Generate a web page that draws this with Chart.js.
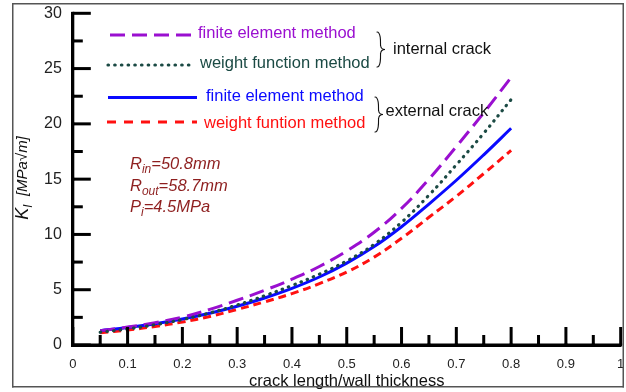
<!DOCTYPE html>
<html><head><meta charset="utf-8">
<script src="https://cdn.jsdelivr.net/npm/chart.js@4.4.0/dist/chart.umd.min.js"></script>
<style>html,body{margin:0;padding:0;background:#fff;overflow:hidden}canvas{display:block}</style>
</head><body>
<canvas id="c" width="626" height="392"></canvas>
<script>
// ---- data ----
const crackRatio   = [0.05,0.10,0.15,0.20,0.25,0.30,0.35,0.40,0.45,0.50,0.55,0.60,0.65,0.70,0.75,0.80];
const internalFEM  = [1.30,1.62,2.02,2.52,3.22,4.05,4.95,5.95,7.10,8.50,10.2,12.35,15.0,17.95,21.0,24.2];
const internalWF   = [1.15,1.45,1.83,2.30,2.90,3.62,4.45,5.38,6.40,7.60,9.10,11.1,13.55,16.3,19.15,22.2];
const externalFEM  = [1.30,1.58,1.92,2.35,2.87,3.50,4.25,5.12,6.15,7.40,8.90,10.7,12.75,14.9,17.2,19.6];
const externalWF   = [1.10,1.35,1.68,2.08,2.58,3.22,3.90,4.65,5.55,6.60,7.95,9.65,11.55,13.45,15.5,17.6];
const seriesLabels = ['finite element method','weight function method','finite element method','weight funtion method'];
const groupLabels  = ['internal crack','external crack'];
const xTickLabels  = ['0','0.1','0.2','0.3','0.4','0.5','0.6','0.7','0.8','0.9','1'];
const yTickLabels  = ['0','5','10','15','20','25','30'];
const xTitle = 'crack length/wall thickness';

const FONT = '"Liberation Sans", Arial, Helvetica, sans-serif';
const C_PURPLE = '#9a0fd0', C_GREEN = '#1b4a44', C_BLUE = '#0a0aff', C_RED = '#ff1010', C_ANN = '#8e1f1f';
const C_AXIS = '#000000';

const pts = arr => crackRatio.map((x,i)=>({x, y: arr[i]}));

const bgPlugin = {
  id:'bg',
  beforeDraw(chart){ const c=chart.ctx; c.save(); c.fillStyle='#fff'; c.fillRect(0,0,chart.width,chart.height); c.restore(); }
};

function brace(c, x, y0, y1, w){
  const ym = (y0+y1)/2;
  c.beginPath();
  c.moveTo(x, y0);
  c.bezierCurveTo(x+w*0.6, y0, x+w*0.4, ym-2, x+w*0.45, ym-4);
  c.quadraticCurveTo(x+w*0.5, ym, x+w, ym);
  c.quadraticCurveTo(x+w*0.5, ym, x+w*0.45, ym+4);
  c.bezierCurveTo(x+w*0.4, ym+2, x+w*0.6, y1, x, y1);
  c.stroke();
}

const overlayPlugin = {
  id:'overlay',
  afterDraw(chart){
    const c = chart.ctx, xs = chart.scales.x, ys = chart.scales.y;
    const left = xs.getPixelForValue(0);
    const bottom = ys.getPixelForValue(0);
    c.save();
    c.setLineDash([]);
    c.fillStyle = C_AXIS;
    // axis lines drawn piecewise between consecutive ticks, plus inner ticks
    const xp = xs.ticks.map(t=>xs.getPixelForValue(t.value));
    const yp = ys.ticks.map(t=>ys.getPixelForValue(t.value));
    for (let i=0;i<xp.length-1;i++) c.fillRect(xp[i]-1.5, bottom-1.5, xp[i+1]-xp[i]+3, 3);
    for (let i=0;i<yp.length-1;i++) c.fillRect(left-1.5, yp[i+1]-1.5, 3, yp[i]-yp[i+1]+3);
    xp.forEach((p,i)=>{ const L = (i%2===0)?18:10; c.fillRect(p-1.5, bottom-L, 3, L); });
    yp.forEach((p,i)=>{ const L = (i%2===0)?18:10; c.fillRect(left, p-1.5, L, 3); });
    // legend lines
    const leg = [
      {y:35, x0:110, x1:193, col:C_PURPLE, dash:[15,7], cap:'butt', w:3, tx:198, ty:38},
      {y:65, x0:108, x1:195, col:C_GREEN, dash:[0.5,6.2], cap:'round', w:3.2, tx:200, ty:68},
      {y:97.5, x0:108, x1:197, col:C_BLUE, dash:[], cap:'butt', w:3, tx:206, ty:101},
      {y:122, x0:107, x1:197, col:C_RED, dash:[9,8], cap:'butt', w:3, tx:204, ty:127.5}
    ];
    leg.forEach((l,i)=>{
      c.strokeStyle=l.col; c.lineWidth=l.w; c.lineCap=l.cap; c.setLineDash(l.dash);
      c.beginPath(); c.moveTo(l.x0,l.y); c.lineTo(l.x1,l.y); c.stroke();
      c.setLineDash([]);
      c.fillStyle=l.col; c.font='16.5px '+FONT; c.textBaseline='alphabetic'; c.textAlign='left';
      c.fillText(seriesLabels[i], l.tx, l.ty);
    });
    // braces
    c.strokeStyle='#111'; c.lineWidth=1.1; c.lineCap='round';
    brace(c, 377, 32, 67, 8);
    brace(c, 375, 97, 132, 8);
    c.fillStyle='#111'; c.font='16.5px '+FONT;
    c.fillText(groupLabels[0], 393, 53.5);
    c.fillText(groupLabels[1], 385.5, 116);
    // annotations
    const ann = [
      {y:168.5, main:'R', sub:'in', rest:'=50.8mm'},
      {y:191, main:'R', sub:'out', rest:'=58.7mm'},
      {y:212, main:'P', sub:'i', rest:'=4.5MPa'}
    ];
    c.fillStyle=C_ANN;
    ann.forEach(a=>{
      let x = 130;
      c.font='italic 16.5px '+FONT; c.fillText(a.main, x, a.y); x += c.measureText(a.main).width;
      c.font='italic 12px '+FONT; c.fillText(a.sub, x, a.y+4); x += c.measureText(a.sub).width;
      c.font='italic 16.5px '+FONT; c.fillText(a.rest, x, a.y);
    });
    // y title (rotated)
    c.fillStyle='#111';
    c.translate(28, 178);
    c.rotate(-Math.PI/2);
    c.textBaseline='alphabetic';
    const parts = [
      {t:'K', f:'italic 18px '+FONT, dy:0},
      {t:'I', f:'italic 12px '+FONT, dy:4},
      {t:'  [MPa\u221Am]', f:'italic 15px '+FONT, dy:-1}
    ];
    let tot=0; parts.forEach(p=>{ c.font=p.f; p.w=c.measureText(p.t).width; tot+=p.w; });
    let x=-tot/2;
    parts.forEach(p=>{ c.font=p.f; c.fillText(p.t, x, p.dy); x+=p.w; });
    c.setTransform(1,0,0,1,0,0);
    // outer frame
    c.fillStyle='#555';
    c.fillRect(12, 3, 612, 1.5);
    c.fillRect(12, 386, 612, 1.5);
    c.fillRect(12, 3, 1.5, 384.5);
    c.fillRect(622.5, 3, 1.5, 384.5);
    c.restore();
  }
};

new Chart(document.getElementById('c'), {
  type:'line',
  data:{ datasets:[
    {label:seriesLabels[1]+' (internal)', data:pts(internalWF), borderColor:C_GREEN, borderWidth:3.2, borderDash:[0.5,6.2], borderCapStyle:'round', order:0},
    {label:seriesLabels[0]+' (internal)', data:pts(internalFEM), borderColor:C_PURPLE, borderWidth:3, borderDash:[15,7], order:1},
    {label:seriesLabels[2]+' (external)', data:pts(externalFEM), borderColor:C_BLUE, borderWidth:3, order:2},
    {label:seriesLabels[3]+' (external)', data:pts(externalWF), borderColor:C_RED, borderWidth:3, borderDash:[8,5], order:3}
  ]},
  options:{
    responsive:false, animation:false, devicePixelRatio:1,
    layout:{padding:{left:0, top:13.3, right:5.3, bottom:0}},
    elements:{ point:{radius:0}, line:{tension:0.4, fill:false} },
    plugins:{ legend:{display:false}, tooltip:{enabled:false} },
    scales:{
      x:{ type:'linear', min:0, max:1,
        grid:{display:false, drawTicks:false},
        border:{display:true, color:C_AXIS, width:3},
        ticks:{ stepSize:0.05, autoSkip:false, maxRotation:0, padding:12, color:'#222',
          font:{family:FONT, size:13},
          callback:(v,i)=> i%2===0 ? xTickLabels[i/2] : '' },
        title:{display:true, text:xTitle, color:'#111', font:{family:FONT, size:16.5}, padding:{top:0,bottom:1}},
        afterFit(s){ s.height = 47; s.paddingLeft = 0; s.paddingRight = 0; }
      },
      y:{ type:'linear', min:0, max:30,
        grid:{display:false, drawTicks:false},
        border:{display:true, color:C_AXIS, width:3},
        ticks:{ stepSize:2.5, autoSkip:false, padding:11, color:'#222',
          font:{family:FONT, size:16},
          callback:(v,i)=> i%2===0 ? yTickLabels[i/2] : '' },
        afterFit(s){ s.width = 72.8; s.paddingTop = 0; s.paddingBottom = 0; }
      }
    }
  },
  plugins:[bgPlugin, overlayPlugin]
});
</script>
</body></html>
